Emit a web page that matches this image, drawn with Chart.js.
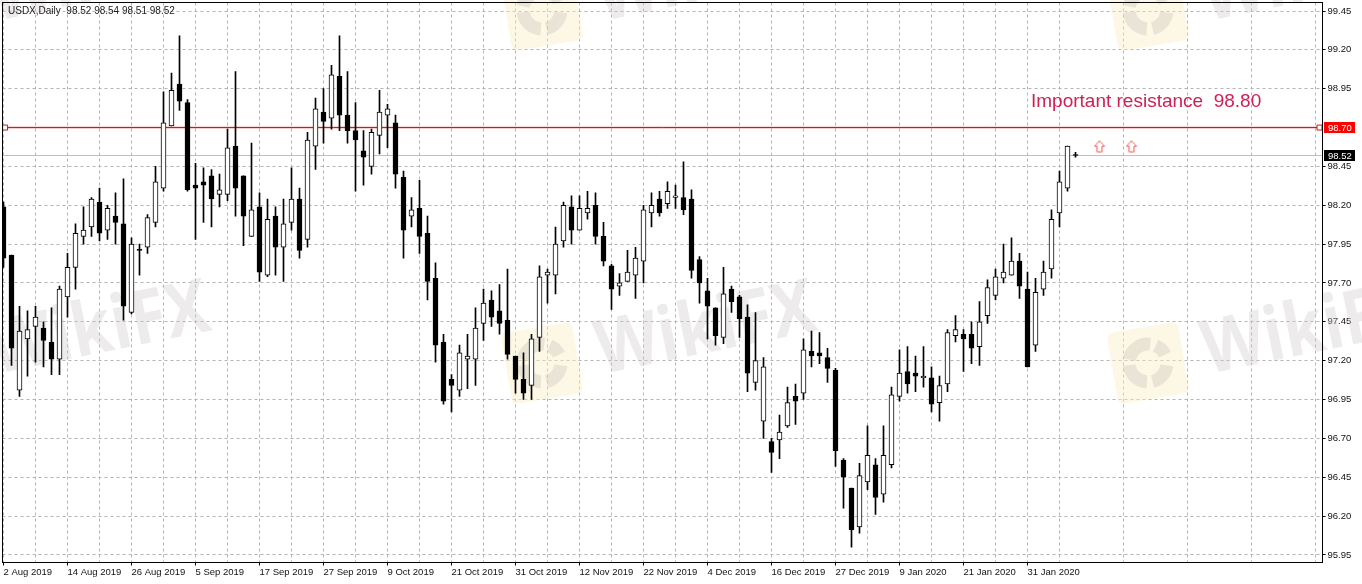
<!DOCTYPE html>
<html>
<head>
<meta charset="utf-8">
<title>USDX Daily</title>
<script src="https://cdn.jsdelivr.net/npm/chart.js@4"></script>
<style>
    html, body { margin: 0; padding: 0; background: #fff; }
    canvas { display: block; }
</style>
</head>
<body>
<canvas id="chart" width="1362" height="584"></canvas>
<script>
// Daily candles
const opens = [98.19,97.88,97.01,97.34,97.42,97.41,97.32,97.21,97.61,97.80,98.00,98.06,98.22,98.04,98.13,98.08,97.51,97.91,97.93,98.09,
    98.31,98.71,98.98,98.86,98.33,98.35,98.39,98.27,98.27,98.58,98.39,98.00,98.19,97.75,98.13,97.93,98.09,98.24,97.98,98.58,
    98.80,98.76,99.03,98.78,98.68,98.55,98.45,98.65,98.78,98.73,98.38,98.13,98.18,98.02,97.73,97.32,97.08,97.01,97.21,97.21,
    97.44,97.59,97.52,97.46,97.23,97.08,97.04,97.35,97.75,97.75,97.97,98.19,98.04,98.15,98.20,98.00,97.81,97.68,97.71,97.75,
    97.84,98.15,98.24,98.21,98.25,98.25,98.24,97.85,97.65,97.54,97.35,97.66,97.61,97.48,97.06,96.81,96.68,96.69,96.78,96.97,
    96.99,97.26,97.25,97.22,97.14,96.56,96.38,96.13,96.42,96.53,96.34,96.53,96.97,97.13,97.12,97.09,97.09,96.93,97.05,97.36,
    97.37,97.37,97.29,97.49,97.62,97.73,97.75,97.84,97.66,97.30,97.66,97.79,98.15,98.31,98.52];
const highs = [98.22,97.88,97.55,97.52,97.55,97.45,97.54,97.68,97.89,98.08,98.19,98.25,98.31,98.20,98.28,98.37,97.99,97.95,98.14,98.45,
    98.93,99.05,99.29,98.88,98.47,98.44,98.43,98.40,98.69,99.06,98.39,98.60,98.28,98.24,98.19,98.24,98.44,98.31,98.67,98.89,
    98.95,99.10,99.29,99.06,98.86,98.68,98.69,98.94,98.85,98.78,98.42,98.25,98.36,98.13,97.83,97.37,97.11,97.30,97.37,97.54,
    97.66,97.65,97.69,97.79,97.23,97.25,97.37,97.81,97.79,98.06,98.22,98.26,98.26,98.29,98.28,98.09,97.82,97.76,97.91,97.93,
    98.20,98.28,98.29,98.35,98.33,98.48,98.30,97.87,97.73,97.54,97.80,97.68,97.62,97.56,97.51,97.22,96.70,96.85,97.03,97.05,
    97.34,97.39,97.38,97.28,97.15,96.57,96.38,96.54,96.78,96.57,96.78,97.03,97.27,97.29,97.23,97.29,97.16,97.10,97.40,97.49,
    97.40,97.45,97.58,97.72,97.79,97.95,97.99,97.89,97.77,97.73,97.84,98.17,98.42,98.58,98.54];
const lows = [97.80,97.17,96.97,97.10,97.19,97.16,97.11,97.11,97.48,97.66,97.95,98.00,97.97,97.98,97.95,97.46,97.50,97.75,97.89,98.06,
    98.29,98.71,98.81,98.29,97.98,98.09,98.06,98.19,98.23,98.13,97.94,98.00,97.71,97.74,97.75,97.71,98.04,97.86,97.93,98.43,
    98.60,98.69,98.68,98.60,98.29,98.33,98.40,98.53,98.57,98.31,97.86,98.06,97.89,97.59,97.19,96.92,96.87,96.97,97.02,97.04,
    97.33,97.42,97.37,97.21,96.99,96.95,96.95,97.26,97.57,97.63,97.93,97.95,98.04,98.11,97.95,97.81,97.53,97.62,97.71,97.60,
    97.70,98.06,98.13,98.18,98.18,98.14,97.73,97.57,97.34,97.30,97.31,97.51,97.35,97.00,97.01,96.70,96.48,96.57,96.77,96.79,
    96.95,97.16,97.18,97.06,96.52,96.25,96.00,96.09,96.37,96.21,96.29,96.51,96.94,96.99,97.00,97.03,96.87,96.81,97.00,97.32,
    97.13,97.18,97.17,97.44,97.59,97.70,97.75,97.60,97.16,97.26,97.62,97.73,98.06,98.29,98.51];
const closes = [97.86,97.28,97.39,97.40,97.48,97.33,97.21,97.66,97.80,98.02,98.04,98.24,98.02,98.18,98.09,97.55,97.95,97.91,98.12,98.35,
    98.73,98.94,98.87,98.30,98.31,98.33,98.24,98.30,98.57,98.31,98.13,98.17,97.77,98.11,97.93,98.08,98.24,97.91,98.62,98.82,
    98.74,99.04,98.78,98.68,98.62,98.51,98.67,98.80,98.82,98.40,98.04,98.17,98.00,97.71,97.30,96.94,97.04,97.25,97.23,97.41,
    97.57,97.48,97.44,97.24,97.08,96.99,97.34,97.74,97.77,97.95,98.20,98.04,98.18,98.18,98.00,97.84,97.66,97.70,97.77,97.86,
    98.17,98.20,98.15,98.29,98.26,98.17,97.78,97.70,97.55,97.36,97.63,97.58,97.47,97.12,97.20,97.16,96.61,96.74,96.93,96.94,
    97.27,97.23,97.23,97.15,96.62,96.45,96.11,96.46,96.59,96.32,96.59,96.98,97.12,97.05,97.10,97.10,96.92,97.04,97.38,97.40,
    97.34,97.28,97.45,97.67,97.74,97.77,97.84,97.68,97.16,97.64,97.77,98.11,98.35,98.58,98.52];

// Axis labels: one date every 8 bars
const dateLabels = ['2 Aug 2019','14 Aug 2019','26 Aug 2019','5 Sep 2019','17 Sep 2019','27 Sep 2019','9 Oct 2019','21 Oct 2019',
    '31 Oct 2019','12 Nov 2019','22 Nov 2019','4 Dec 2019','16 Dec 2019','27 Dec 2019','9 Jan 2020','21 Jan 2020','31 Jan 2020'];
const priceTicks = [95.95,96.20,96.45,96.70,96.95,97.20,97.45,97.70,97.95,98.20,98.45,98.70,98.95,99.20,99.45];

// Levels and markers
const resistanceLevel = 98.70;
const currentLevel = 98.52;
const arrowBars = [137, 141];
const arrowPrices = [98.58, 98.58];

const xMin = -0.125;
const xMax = 164.875;
const yMin = 95.9011;
const yMax = 99.5047;

const LABEL_FONT = '9.5px "Liberation Sans"';

function arrowIcon() {
    const c = document.createElement('canvas');
    c.width = 12;
    c.height = 13;
    const g = c.getContext('2d');
    g.strokeStyle = '#f25a55';
    g.fillStyle = '#fff';
    g.beginPath();
    g.moveTo(6, 1);
    g.lineTo(11, 6.5);
    g.lineTo(8.5, 6.5);
    g.lineTo(8.5, 12);
    g.lineTo(3.5, 12);
    g.lineTo(3.5, 6.5);
    g.lineTo(1, 6.5);
    g.closePath();
    g.fill();
    g.stroke();
    return c;
}

// Replace the room Chart.js keeps for the first and last tick label
function setAxisPadding(scale) {
    scale.paddingLeft = 2.5;
    scale.paddingRight = 0;
    scale.paddingTop = 2.5;
    scale.paddingBottom = 0;
}

// Faded WikiFX marks behind the chart
const watermarkPlugin = {
    id: 'watermark',
    beforeDatasetsDraw(chart) {
        const ctx = chart.ctx;
        [-606, 0, 606].forEach((dx) => {
            [-353, 0].forEach((dy) => {
                ctx.save();
                ctx.translate(542 + dx, 363 + dy);
                ctx.rotate(-0.17);
                ctx.fillStyle = 'rgba(251,236,196,0.42)';
                ctx.beginPath();
                ctx.roundRect(-36, -36, 72, 72, 6);
                ctx.fill();
                ctx.strokeStyle = 'rgba(195,190,185,0.34)';
                ctx.lineWidth = 13;
                [[0.3, 1.5], [1.8, 3.2], [3.5, 5.0], [5.3, 6.0]].forEach(([a, b]) => {
                    ctx.beginPath();
                    ctx.arc(0, 0, 19, a, b);
                    ctx.stroke();
                });
                ctx.restore();

                ctx.save();
                ctx.translate(706 + dx, 331 + dy);
                ctx.rotate(-0.2);
                ctx.scale(1, 1.15);
                ctx.fillStyle = 'rgba(205,200,200,0.36)';
                ctx.font = 'bold 65px "Open Sans"';
                ctx.textAlign = 'center';
                ctx.textBaseline = 'middle';
                ctx.fillText('WikiFX', 0, 0);
                ctx.restore();
            });
        });
    }
};

// Chart frame, price boxes and the texts on the chart
const overlayPlugin = {
    id: 'overlay',
    afterDraw(chart) {
        const ctx = chart.ctx;
        const area = chart.chartArea;
        const y = chart.scales.y;

        ctx.save();
        ctx.strokeStyle = '#000';
        ctx.lineWidth = 1;
        ctx.strokeRect(area.left, area.top, area.right - area.left, area.bottom - area.top);

        ctx.font = LABEL_FONT;
        ctx.textAlign = 'left';
        ctx.textBaseline = 'middle';
        [[resistanceLevel, '#ff0000'], [currentLevel, '#000000']].forEach(([level, color]) => {
            const py = Math.round(y.getPixelForValue(level));
            ctx.fillStyle = color;
            ctx.fillRect(1324, py - 6, 31, 11);
            ctx.fillStyle = '#fff';
            ctx.fillText(level.toFixed(2), 1328, py);
        });

        ctx.fillStyle = '#222';
        ctx.textBaseline = 'alphabetic';
        ctx.font = '10px "Liberation Sans"';
        ctx.fillText('USDX,Daily  98.52 98.54 98.51 98.52', 8, 14);

        ctx.fillStyle = '#cc2255';
        ctx.font = '19px "Liberation Sans"';
        ctx.fillText('Important resistance  98.80', 1031, 107);
        ctx.restore();
    }
};

function loadChart() {
    const bars = opens.map((o, i) => i);
    const ctx = document.getElementById('chart').getContext('2d');
    new Chart(ctx, {
        type: 'bar',
        data: {
            datasets: [
                {
                    label: 'Body',
                    data: bars.map((i) => ({ x: i, y: [opens[i], closes[i]] })),
                    backgroundColor: bars.map((i) => closes[i] > opens[i] ? '#fff' : '#000'),
                    borderColor: '#000',
                    borderWidth: 1,
                    borderSkipped: false,
                    barThickness: 5,
                    minBarLength: 1,
                    grouped: false,
                    order: 1
                },
                {
                    label: 'Wick',
                    data: bars.map((i) => ({ x: i, y: [lows[i], highs[i]] })),
                    backgroundColor: '#000',
                    borderWidth: 0,
                    barThickness: 1,
                    grouped: false,
                    order: 2
                },
                {
                    type: 'line',
                    label: 'Resistance',
                    data: [xMin, 0.2, 164.5, xMax].map((x) => ({ x: x, y: resistanceLevel })),
                    borderColor: '#c01a20',
                    borderWidth: 1,
                    pointStyle: 'rect',
                    pointRadius: (c) => (c.dataIndex === 1 || c.dataIndex === 2) ? 3.5 : 0,
                    pointBackgroundColor: '#fff',
                    pointBorderColor: '#c01a20',
                    pointBorderWidth: 1,
                    order: 3
                },
                {
                    type: 'line',
                    label: 'Resistance glow',
                    data: [xMin, xMax].map((x) => ({ x: x, y: resistanceLevel })),
                    borderColor: 'rgba(235,70,70,0.22)',
                    borderWidth: 3,
                    pointRadius: 0,
                    order: 5
                },
                {
                    type: 'line',
                    label: 'Current',
                    data: [xMin, xMax].map((x) => ({ x: x, y: currentLevel })),
                    borderColor: '#c0c0c0',
                    borderWidth: 1,
                    pointRadius: 0,
                    order: 4
                },
                {
                    type: 'line',
                    label: 'Arrows',
                    data: arrowBars.map((x, i) => ({ x: x, y: arrowPrices[i] })),
                    showLine: false,
                    pointStyle: arrowIcon(),
                    order: 0
                }
            ]
        },
        options: {
            responsive: false,
            animation: false,
            devicePixelRatio: 1,
            layout: { padding: 0, autoPadding: false },
            plugins: {
                legend: { display: false },
                tooltip: { enabled: false }
            },
            scales: {
                x: {
                    type: 'linear',
                    min: xMin,
                    max: xMax,
                    offset: false,
                    afterBuildTicks(scale) {
                        const list = [];
                        for (let v = 0; v <= 164; v += 4) {
                            list.push({ value: v });
                        }
                        scale.ticks = list;
                    },
                    afterFit(scale) {
                        scale.height = 21.5;
                        setAxisPadding(scale);
                    },
                    grid: {
                        offset: false,
                        color: '#b4b4b4',
                        tickLength: 3,
                        tickColor: (c) => (c.tick && c.tick.value % 8 === 0) ? '#000' : 'rgba(0,0,0,0)'
                    },
                    border: { color: '#000', dash: [3, 3] },
                    ticks: {
                        autoSkip: false,
                        maxRotation: 0,
                        minRotation: 0,
                        align: 'start',
                        padding: 1,
                        color: '#111',
                        font: { family: 'Liberation Sans', size: 9.5 },
                        callback: (v) => v % 8 === 0 ? dateLabels[v / 8] : ''
                    }
                },
                y: {
                    type: 'linear',
                    position: 'right',
                    min: yMin,
                    max: yMax,
                    afterBuildTicks(scale) {
                        scale.ticks = priceTicks.filter((v) => v !== resistanceLevel).map((v) => ({ value: v }));
                    },
                    afterFit(scale) {
                        scale.width = 39.5;
                        setAxisPadding(scale);
                    },
                    grid: {
                        color: '#b4b4b4',
                        tickLength: 3,
                        tickColor: '#000'
                    },
                    border: { color: '#000', dash: [3, 3] },
                    ticks: {
                        padding: 2,
                        color: '#111',
                        font: { family: 'Liberation Sans', size: 9.5 },
                        callback: (v) => v.toFixed(2)
                    }
                }
            }
        },
        plugins: [watermarkPlugin, overlayPlugin]
    });
}

window.onload = loadChart;
</script>
</body>
</html>
